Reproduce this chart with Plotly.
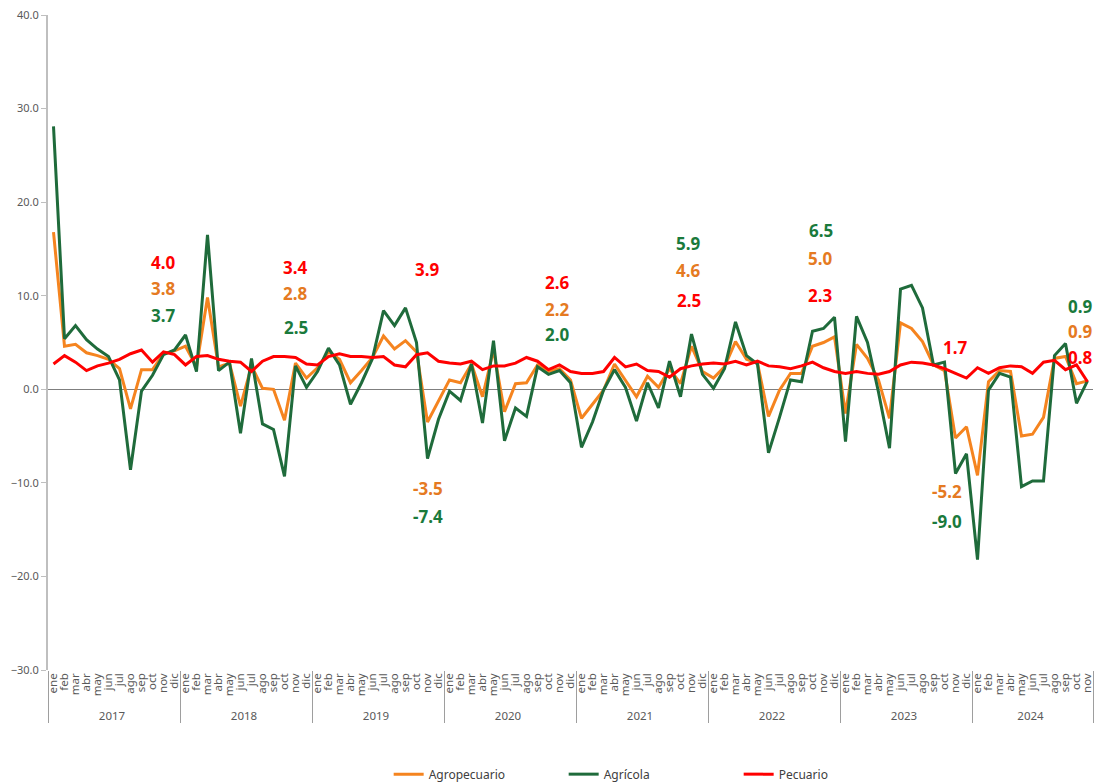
import plotly.graph_objects as go

years = ["2017", "2018", "2019", "2020", "2021", "2022", "2023", "2024"]
months = ["ene", "feb", "mar", "abr", "may", "jun", "jul", "ago", "sep", "oct", "nov", "dic"]

agropecuario = [
    16.8, 4.6, 4.8, 3.9, 3.6, 3.2, 2.2, -2.1, 2.1, 2.1, 3.8, 4.1,
    4.6, 2.4, 9.8, 2.4, 2.8, -1.8, 2.5, 0.1, 0.0, -3.3, 2.8, 1.2,
    2.3, 4.0, 3.2, 0.7, 2.0, 3.4, 5.7, 4.3, 5.2, 4.0, -3.5, -1.2,
    1.0, 0.7, 2.7, -0.8, 4.2, -2.4, 0.6, 0.7, 2.6, 1.9, 2.2, 1.0,
    -3.1, -1.6, -0.1, 2.7, 1.0, -0.8, 1.4, 0.2, 2.2, 0.6, 4.6, 1.9,
    1.2, 2.4, 5.1, 3.2, 2.8, -2.9, -0.1, 1.7, 1.7, 4.6, 5.0, 5.6,
    -2.6, 4.8, 3.3, 1.0, -3.1, 7.1, 6.5, 5.1, 2.6, 2.0, -5.2, -4.0,
    -9.2, 0.8, 2.0, 1.9, -5.0, -4.8, -3.0, 3.3, 3.5, 0.6, 0.9,
]
agricola = [
    28.1, 5.4, 6.8, 5.3, 4.3, 3.5, 1.0, -8.6, -0.2, 1.5, 3.7, 4.2,
    5.8, 1.9, 16.5, 2.0, 2.9, -4.7, 3.3, -3.7, -4.3, -9.3, 2.5, 0.2,
    1.9, 4.4, 2.6, -1.6, 0.7, 3.3, 8.4, 6.8, 8.7, 5.0, -7.4, -3.2,
    -0.2, -1.2, 2.7, -3.6, 5.2, -5.5, -2.0, -2.9, 2.4, 1.6, 2.0, 0.7,
    -6.2, -3.5, -0.1, 2.1, 0.2, -3.4, 0.7, -2.0, 3.0, -0.8, 5.9, 1.6,
    0.1, 2.2, 7.2, 3.6, 2.7, -6.8, -3.0, 1.0, 0.8, 6.2, 6.5, 7.7,
    -5.6, 7.8, 5.0, -0.3, -6.3, 10.7, 11.1, 8.7, 2.6, 2.9, -9.0, -6.9,
    -18.2, -0.1, 1.7, 1.3, -10.4, -9.8, -9.8, 3.6, 4.9, -1.5, 0.9,
]
pecuario = [
    2.7, 3.6, 2.9, 2.0, 2.5, 2.8, 3.2, 3.8, 4.2, 2.9, 4.0, 3.7,
    2.6, 3.5, 3.6, 3.2, 3.0, 2.9, 1.9, 3.0, 3.5, 3.5, 3.4, 2.7,
    2.6, 3.5, 3.8, 3.5, 3.5, 3.4, 3.5, 2.6, 2.4, 3.7, 3.9, 3.0,
    2.8, 2.7, 3.0, 2.1, 2.5, 2.5, 2.8, 3.4, 3.0, 2.1, 2.6, 1.9,
    1.7, 1.7, 1.9, 3.4, 2.4, 2.7, 2.0, 1.9, 1.3, 2.2, 2.5, 2.7,
    2.8, 2.7, 3.0, 2.6, 3.0, 2.5, 2.4, 2.2, 2.5, 2.9, 2.3, 1.9,
    1.7, 1.9, 1.7, 1.6, 1.9, 2.6, 2.9, 2.8, 2.6, 2.2, 1.7, 1.2,
    2.3, 1.7, 2.3, 2.5, 2.4, 1.7, 2.9, 3.1, 2.1, 2.6, 0.8,
]

n = len(agricola)
x_year = [years[i // 12] for i in range(n)]
x_month = [months[i % 12] for i in range(n)]

C_AGRO, C_AGRO_T = "#F5841F", "#E57A22"
C_AGRI, C_AGRI_T = "#1F6B3B", "#1A7A3C"
C_PEC, C_PEC_T = "#FF0000", "#FF0000"

fig = go.Figure()
fig.add_trace(go.Scatter(x=[x_year, x_month], y=agropecuario, name="Agropecuario",
                         mode="lines", line=dict(color=C_AGRO, width=3)))
fig.add_trace(go.Scatter(x=[x_year, x_month], y=agricola, name="Agrícola",
                         mode="lines", line=dict(color=C_AGRI, width=3)))
fig.add_trace(go.Scatter(x=[x_year, x_month], y=pecuario, name="Pecuario",
                         mode="lines", line=dict(color=C_PEC, width=3)))

# November value labels for each year: (year index, [(series, color, y position)])
label_layout = [
    (0, [(pecuario, C_PEC_T, 13.6), (agropecuario, C_AGRO_T, 10.8), (agricola, C_AGRI_T, 7.9)]),
    (1, [(pecuario, C_PEC_T, 13.0), (agropecuario, C_AGRO_T, 10.2), (agricola, C_AGRI_T, 6.6)]),
    (2, [(pecuario, C_PEC_T, 12.8), (agropecuario, C_AGRO_T, -10.6), (agricola, C_AGRI_T, -13.6)]),
    (3, [(pecuario, C_PEC_T, 11.4), (agropecuario, C_AGRO_T, 8.5), (agricola, C_AGRI_T, 5.9)]),
    (4, [(agricola, C_AGRI_T, 15.6), (agropecuario, C_AGRO_T, 12.7), (pecuario, C_PEC_T, 9.5)]),
    (5, [(agricola, C_AGRI_T, 17.0), (agropecuario, C_AGRO_T, 14.0), (pecuario, C_PEC_T, 10.0)]),
    (6, [(pecuario, C_PEC_T, 4.5), (agropecuario, C_AGRO_T, -10.9), (agricola, C_AGRI_T, -14.1)]),
    (7, [(agricola, C_AGRI_T, 8.9), (agropecuario, C_AGRO_T, 6.2), (pecuario, C_PEC_T, 3.4)]),
]
shifts = {4: -3, 5: -3, 3: -2, 7: -7}
for yi, items in label_layout:
    idx = yi * 12 + 10
    for series, col, ypos in items:
        xs = shifts.get(yi, 0)
        if yi == 6 and series is not pecuario:
            xs = -9
        fig.add_annotation(x=idx, y=ypos, xref="x", yref="y",
                           text=f"<b>{series[idx]:.1f}</b>", showarrow=False,
                           xshift=xs,
                           font=dict(size=17, color=col, family="Noto Sans"))

fig.update_layout(
    width=1106, height=775,
    margin=dict(l=40, r=21, t=7, b=113, autoexpand=False),
    paper_bgcolor="white", plot_bgcolor="white",
    font=dict(family="Noto Sans", color="#595959", size=11),
    showlegend=True,
    legend=dict(orientation="h", x=0.326, xanchor="left", y=-0.159, yanchor="middle",
                font=dict(size=12, color="#404040"), entrywidth=130),
)
fig.update_xaxes(
    type="multicategory", range=[-0.5, n - 0.5],
    tickangle=-90, tickfont=dict(size=11.5, color="#595959"),
    tickmode="linear", tick0=0, dtick=1, nticks=200,
    showgrid=False, showline=False, ticks="", showdividers=True,
    dividercolor="#9e9e9e", dividerwidth=1, automargin=False,
)
fig.update_yaxes(
    range=[-30, 40], dtick=10, tickformat=".1f", showgrid=False,
    zeroline=True, zerolinecolor="#7f7f7f", zerolinewidth=1,
    showline=True, linecolor="#bfbfbf", linewidth=2,
    ticks="outside", ticklen=5, tickcolor="#bfbfbf",
    tickfont=dict(size=11, color="#595959"), automargin=False,
    ticklabeloverflow="allow",
)

fig.write_html("out.html")
